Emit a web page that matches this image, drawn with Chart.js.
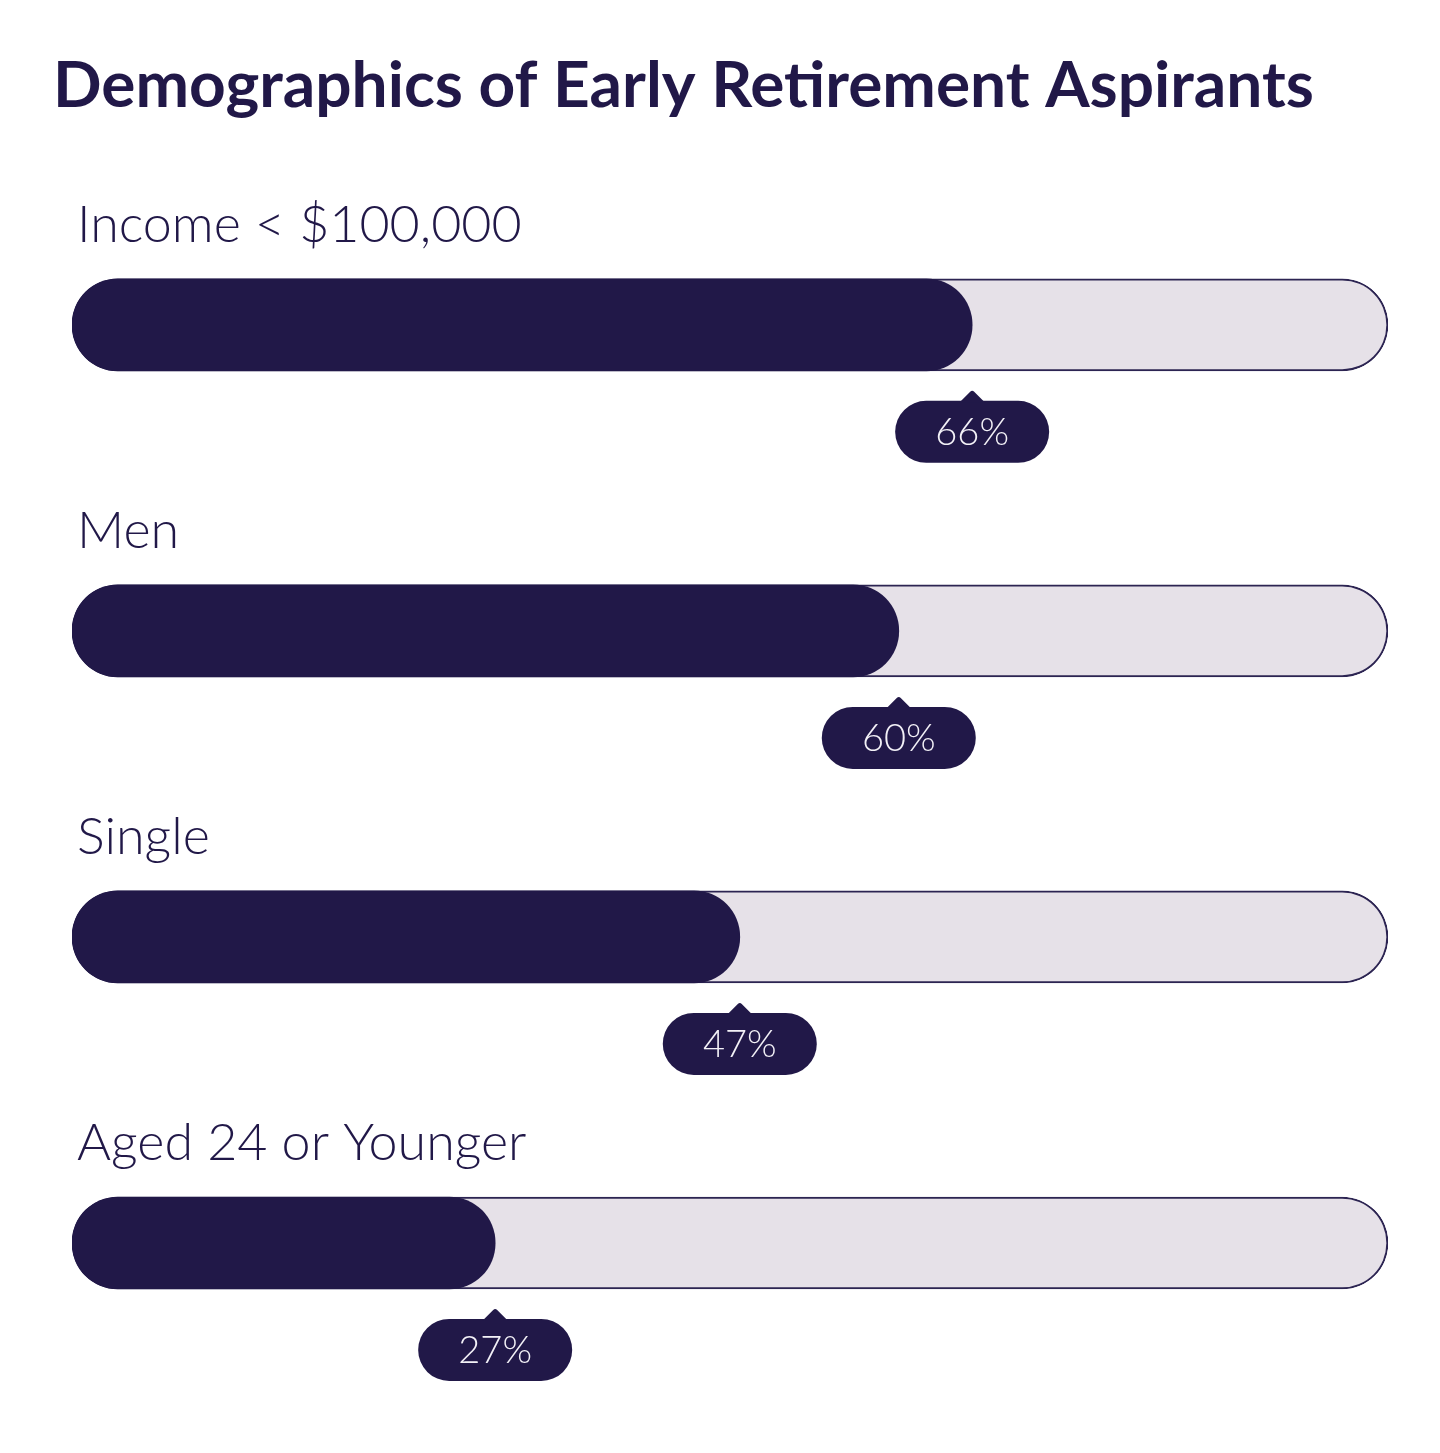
<!DOCTYPE html>
<html>
<head>
<meta charset="utf-8">
<script src="https://cdn.jsdelivr.net/npm/chart.js@4.4.1/dist/chart.umd.min.js"></script>
<style>
  html, body { margin: 0; padding: 0; background: #ffffff; }
  #wrap { width: 1440px; height: 1453px; }
</style>
</head>
<body>
<div id="wrap"><canvas id="myChart"></canvas></div>
<script>
// Data
const categories = ['Income < $100,000', 'Men', 'Single', 'Aged 24 or Younger'];
const shares = [66, 60, 47, 27];
const trackValues = [100, 100, 100, 100];

// the rounded cap of the bar sits left of 0%
const AXIS_MIN = -7.6;
const AXIS_MAX = 100;

const NAVY = '#211848';
const TRACK = '#e6e1e8';

// Labels above bars + value bubbles under bar ends
const barLabels = {
    id: 'barLabels',
    afterDatasetsDraw(chart) {
        const ctx = chart.ctx;
        const meta = chart.getDatasetMeta(0);
        const left = chart.chartArea.left;
        ctx.save();
        meta.data.forEach((bar, i) => {
            const top = bar.y - bar.height / 2;
            const bottom = bar.y + bar.height / 2;

            // category label
            ctx.font = '300 52px Lato';
            ctx.fillStyle = NAVY;
            ctx.textAlign = 'left';
            ctx.textBaseline = 'alphabetic';
            ctx.fillText(categories[i], left + 5, top - 37);

            // bubble
            const w = 154, h = 62, r = 31;
            const cx = bar.x;
            const bTop = bottom + 30;
            ctx.fillStyle = NAVY;
            ctx.beginPath();
            ctx.roundRect(cx - w / 2, bTop, w, h, r);
            ctx.fill();
            ctx.beginPath();
            ctx.moveTo(cx - 13, bTop + 2);
            ctx.lineTo(cx - 2, bTop - 9);
            ctx.quadraticCurveTo(cx, bTop - 11, cx + 2, bTop - 9);
            ctx.lineTo(cx + 13, bTop + 2);
            ctx.closePath();
            ctx.fill();

            ctx.font = '300 38px Lato';
            ctx.fillStyle = '#f3f1f7';
            ctx.textAlign = 'center';
            ctx.textBaseline = 'middle';
            ctx.fillText(shares[i] + '%', cx, bTop + h / 2 + 1);
        });
        ctx.restore();
    }
};

const ctx = document.getElementById('myChart').getContext('2d');

const myChart = new Chart(ctx, {
    type: 'bar',
    data: {
        labels: categories,
        datasets: [
            {
                label: 'Share',
                data: shares,
                base: AXIS_MIN,
                backgroundColor: NAVY,
                borderWidth: 0,
                borderRadius: 46,
                borderSkipped: false,
                barThickness: 92,
                grouped: false
            },
            {
                label: 'Track',
                data: trackValues,
                base: AXIS_MIN,
                backgroundColor: TRACK,
                borderColor: '#2c2452',
                borderWidth: 2,
                borderRadius: 46,
                borderSkipped: false,
                barThickness: 92,
                grouped: false
            }
        ]
    },
    options: {
        indexAxis: 'y',
        responsive: true,
        maintainAspectRatio: false,
        animation: false,
        layout: {
            padding: { left: 53, right: 52, top: 0, bottom: 57 }
        },
        scales: {
            x: {
                display: false,
                min: AXIS_MIN,
                max: AXIS_MAX
            },
            y: {
                display: true,
                ticks: { display: false },
                grid: { display: false },
                border: { display: false },
                afterFit(scale) { scale.width = 19; }
            }
        },
        plugins: {
            title: {
                display: true,
                text: 'Demographics of Early Retirement Aspirants',
                align: 'start',
                color: NAVY,
                font: { family: 'Lato', size: 64, weight: 'bold' },
                padding: { top: 48, bottom: 47 }
            },
            legend: { display: false },
            tooltip: { enabled: false }
        }
    },
    plugins: [barLabels]
});
</script>
</body>
</html>
